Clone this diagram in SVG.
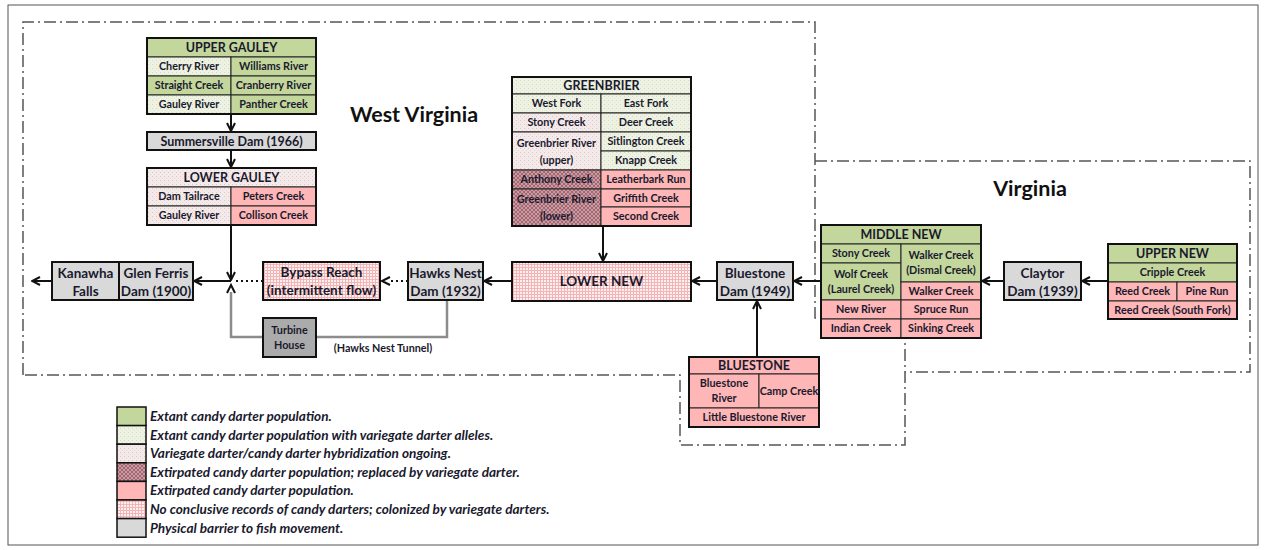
<svg xmlns="http://www.w3.org/2000/svg" width="1265" height="550" viewBox="0 0 1265 550">
<style>
text{font-family:Lato,"Liberation Sans",sans-serif;font-weight:bold;fill:#1a1a2e;text-anchor:middle}
.s{font-size:10.8px}
.m{font-size:12.5px}
.l{font-size:13.5px}
.st{font-size:21.5px;fill:#111}
.lg{font-size:13.6px;font-style:italic;text-anchor:start}
.cell{stroke:#222;stroke-width:1}
.box{fill:none;stroke:#111;stroke-width:2}
.gr{fill:#c3d69b}
.al{fill:url(#pAl)}
.hy{fill:url(#pHy)}
.re{fill:url(#pRe)}
.pk{fill:#ffb6b6}
.nc{fill:url(#pNc)}
.ba{fill:#d9d9d9}
.bd{fill:none;stroke:#555;stroke-width:1.5;stroke-dasharray:12 4 2 4}
.ar{fill:none;stroke:#111;stroke-width:2;marker-end:url(#arr)}
.dt{fill:none;stroke:#111;stroke-width:2;stroke-dasharray:2 3}
.tn{fill:none;stroke:#8c8c8c;stroke-width:2.5}
</style>
<defs>
<marker id="arr" viewBox="0 0 10 10" refX="9" refY="5" markerWidth="10" markerHeight="10" orient="auto" markerUnits="userSpaceOnUse">
<path d="M1,1 L9,5 L1,9" fill="none" stroke="#111" stroke-width="2"/>
</marker>
<pattern id="pAl" width="4" height="4" patternUnits="userSpaceOnUse">
<rect width="4" height="4" fill="#eef2e2"/><rect x="0" y="0" width="1" height="1" fill="#d3dac0"/><rect x="2" y="2" width="1" height="1" fill="#dfe5d0"/>
</pattern>
<pattern id="pHy" width="4" height="4" patternUnits="userSpaceOnUse">
<rect width="4" height="4" fill="#f5eaea"/><rect x="0" y="0" width="1" height="1" fill="#dcc6c8"/><rect x="2" y="2" width="1" height="1" fill="#e6d6d7"/>
</pattern>
<pattern id="pRe" width="4" height="4" patternUnits="userSpaceOnUse">
<rect width="4" height="4" fill="#cc9aa1"/><path d="M0,4 L4,0 M0,0 L4,4" stroke="#935c66" stroke-width="0.8"/>
</pattern>
<pattern id="pNc" width="3" height="3" patternUnits="userSpaceOnUse">
<rect width="3" height="3" fill="#fdf0f0"/><path d="M0,0.5 H3 M0.5,0 V3" stroke="#f2b4b4" stroke-width="1"/>
</pattern>
</defs>
<rect x="8" y="5" width="1250" height="540" fill="#fff" stroke="#555" stroke-width="1"/>

<g id="boundaries">
<polyline class="bd" points="23,375 23,22 815,22 815,318 905,318 905,445 680,445 680,375 23,375"/>
<polyline class="bd" points="815,161 1250,161 1250,372 905,372"/>
<text class="st" x="414" y="122">West Virginia</text>
<text class="st" x="1030" y="196">Virginia</text>
</g>

<g id="connectors">
<line class="ar" x1="231" y1="114" x2="231" y2="131"/>
<line class="ar" x1="231" y1="150" x2="231" y2="167"/>
<line class="ar" x1="231" y1="225" x2="231" y2="280"/>
<line class="ar" x1="231" y1="281" x2="194" y2="281"/>
<line class="ar" x1="52" y1="281" x2="32" y2="281"/>
<line class="dt" x1="263" y1="281" x2="235" y2="281"/>
<line class="dt" x1="408" y1="281" x2="390" y2="281"/>
<path d="M390,277 L382,281 L390,285" fill="none" stroke="#111" stroke-width="2"/>
<line class="ar" x1="512" y1="281" x2="484" y2="281"/>
<line class="ar" x1="603" y1="226" x2="603" y2="261"/>
<line class="ar" x1="717" y1="281" x2="692" y2="281"/>
<line class="ar" x1="821" y1="281" x2="794" y2="281"/>
<line class="ar" x1="757" y1="357" x2="757" y2="301"/>
<line class="ar" x1="1004" y1="281" x2="982" y2="281"/>
<line class="ar" x1="1108" y1="281" x2="1082" y2="281"/>
<polyline class="tn" points="447,300 447,337 316,337"/>
<polyline class="tn" points="263,337 231,337 231,292"/>
<path d="M227,293 L231,285 L235,293" fill="none" stroke="#111" stroke-width="2"/>
<text class="s" x="383" y="352">(Hawks Nest Tunnel)</text>
</g>

<g id="upper-gauley">
<rect class="cell gr" x="147" y="38" width="169" height="19"/>
<rect class="cell al" x="147" y="57" width="84" height="19"/>
<rect class="cell gr" x="231" y="57" width="85" height="19"/>
<rect class="cell gr" x="147" y="76" width="84" height="19"/>
<rect class="cell gr" x="231" y="76" width="85" height="19"/>
<rect class="cell al" x="147" y="95" width="84" height="19"/>
<rect class="cell gr" x="231" y="95" width="85" height="19"/>
<rect class="box" x="147" y="38" width="169" height="76"/>
<text class="m" x="231.5" y="52">UPPER GAULEY</text>
<text class="s" x="189" y="70">Cherry River</text>
<text class="s" x="273.5" y="70">Williams River</text>
<text class="s" x="189" y="89">Straight Creek</text>
<text class="s" x="273.5" y="89">Cranberry River</text>
<text class="s" x="189" y="108">Gauley River</text>
<text class="s" x="273.5" y="108">Panther Creek</text>
</g>

<g id="summersville">
<rect class="ba" x="147" y="132" width="169" height="18" stroke="#111" stroke-width="2"/>
<text class="m" x="231.5" y="145.5">Summersville Dam (1966)</text>
</g>

<g id="lower-gauley">
<rect class="cell hy" x="147" y="168" width="169" height="19"/>
<rect class="cell hy" x="147" y="187" width="84" height="19"/>
<rect class="cell pk" x="231" y="187" width="85" height="19"/>
<rect class="cell hy" x="147" y="206" width="84" height="19"/>
<rect class="cell pk" x="231" y="206" width="85" height="19"/>
<rect class="box" x="147" y="168" width="169" height="57"/>
<text class="m" x="231.5" y="182">LOWER GAULEY</text>
<text class="s" x="189" y="200">Dam Tailrace</text>
<text class="s" x="273.5" y="200">Peters Creek</text>
<text class="s" x="189" y="219">Gauley River</text>
<text class="s" x="273.5" y="219">Collison Creek</text>
</g>

<g id="kanawha-glen-ferris">
<rect class="ba" x="52" y="262" width="141" height="38" stroke="#111" stroke-width="2"/>
<line x1="119" y1="262" x2="119" y2="300" stroke="#111" stroke-width="2"/>
<text class="l" x="85.5" y="278">Kanawha</text>
<text class="l" x="85.5" y="296">Falls</text>
<text class="l" x="156" y="278">Glen Ferris</text>
<text class="l" x="156" y="296">Dam (1900)</text>
</g>

<g id="bypass-reach">
<rect class="nc" x="263" y="262" width="117" height="38" stroke="#111" stroke-width="2"/>
<text class="l" x="321.5" y="277">Bypass Reach</text>
<text class="l" x="321.5" y="295">(intermittent flow)</text>
</g>

<g id="hawks-nest">
<rect class="ba" x="408" y="262" width="75" height="38" stroke="#111" stroke-width="2"/>
<text class="l" x="445.5" y="278">Hawks Nest</text>
<text class="l" x="445.5" y="296">Dam (1932)</text>
</g>

<g id="turbine-house">
<rect x="263" y="318" width="53" height="39" fill="#ababab" stroke="#111" stroke-width="2"/>
<text class="s" x="289.5" y="334">Turbine</text>
<text class="s" x="289.5" y="349">House</text>
</g>

<g id="lower-new">
<rect class="nc" x="512" y="262" width="179" height="39" stroke="#111" stroke-width="2"/>
<text class="l" x="601.5" y="286">LOWER NEW</text>
</g>

<g id="greenbrier">
<rect class="cell al" x="512" y="77" width="179" height="17"/>
<rect class="cell al" x="512" y="94" width="89" height="19"/>
<rect class="cell al" x="601" y="94" width="90" height="19"/>
<rect class="cell hy" x="512" y="113" width="89" height="19"/>
<rect class="cell al" x="601" y="113" width="90" height="19"/>
<rect class="cell hy" x="512" y="132" width="89" height="38"/>
<rect class="cell al" x="601" y="132" width="90" height="19"/>
<rect class="cell al" x="601" y="151" width="90" height="19"/>
<rect class="cell re" x="512" y="170" width="89" height="19"/>
<rect class="cell pk" x="601" y="170" width="90" height="19"/>
<rect class="cell re" x="512" y="189" width="89" height="37"/>
<rect class="cell pk" x="601" y="189" width="90" height="18"/>
<rect class="cell pk" x="601" y="207" width="90" height="19"/>
<rect class="box" x="512" y="77" width="179" height="149"/>
<text class="m" x="601.5" y="90">GREENBRIER</text>
<text class="s" x="556.5" y="107">West Fork</text>
<text class="s" x="646" y="107">East Fork</text>
<text class="s" x="556.5" y="126">Stony Creek</text>
<text class="s" x="646" y="126">Deer Creek</text>
<text class="s" x="556.5" y="147">Greenbrier River</text>
<text class="s" x="556.5" y="164">(upper)</text>
<text class="s" x="646" y="145">Sitlington Creek</text>
<text class="s" x="646" y="164">Knapp Creek</text>
<text class="s" x="556.5" y="183">Anthony Creek</text>
<text class="s" x="646" y="183">Leatherbark Run</text>
<text class="s" x="556.5" y="203">Greenbrier River</text>
<text class="s" x="556.5" y="220">(lower)</text>
<text class="s" x="646" y="202">Griffith Creek</text>
<text class="s" x="646" y="220">Second Creek</text>
</g>

<g id="bluestone-dam">
<rect class="ba" x="717" y="262" width="76" height="38" stroke="#111" stroke-width="2"/>
<text class="l" x="755" y="278">Bluestone</text>
<text class="l" x="755" y="296">Dam (1949)</text>
</g>

<g id="bluestone">
<rect class="cell pk" x="689" y="357" width="130" height="17"/>
<rect class="cell pk" x="689" y="374" width="70" height="34"/>
<rect class="cell pk" x="759" y="374" width="60" height="34"/>
<rect class="cell pk" x="689" y="408" width="130" height="19"/>
<rect class="box" x="689" y="357" width="130" height="70"/>
<text class="m" x="754" y="370">BLUESTONE</text>
<text class="s" x="724" y="387">Bluestone</text>
<text class="s" x="724" y="402">River</text>
<text class="s" x="789" y="395">Camp Creek</text>
<text class="s" x="754" y="421">Little Bluestone River</text>
</g>

<g id="middle-new">
<rect class="cell gr" x="821" y="225" width="160" height="19"/>
<rect class="cell gr" x="821" y="244" width="80" height="19"/>
<rect class="cell gr" x="821" y="263" width="80" height="37"/>
<rect class="cell pk" x="821" y="300" width="80" height="19"/>
<rect class="cell pk" x="821" y="319" width="80" height="19"/>
<rect class="cell gr" x="901" y="244" width="80" height="38"/>
<rect class="cell pk" x="901" y="282" width="80" height="18"/>
<rect class="cell pk" x="901" y="300" width="80" height="19"/>
<rect class="cell pk" x="901" y="319" width="80" height="19"/>
<rect class="box" x="821" y="225" width="160" height="113"/>
<text class="m" x="901" y="239">MIDDLE NEW</text>
<text class="s" x="861" y="257">Stony Creek</text>
<text class="s" x="861" y="278">Wolf Creek</text>
<text class="s" x="861" y="293">(Laurel Creek)</text>
<text class="s" x="861" y="313">New River</text>
<text class="s" x="861" y="332">Indian Creek</text>
<text class="s" x="941" y="259">Walker Creek</text>
<text class="s" x="941" y="274">(Dismal Creek)</text>
<text class="s" x="941" y="295">Walker Creek</text>
<text class="s" x="941" y="313">Spruce Run</text>
<text class="s" x="941" y="332">Sinking Creek</text>
</g>

<g id="claytor-dam">
<rect class="ba" x="1004" y="262" width="77" height="38" stroke="#111" stroke-width="2"/>
<text class="l" x="1042.5" y="278">Claytor</text>
<text class="l" x="1042.5" y="296">Dam (1939)</text>
</g>

<g id="upper-new">
<rect class="cell gr" x="1108" y="244" width="129" height="19"/>
<rect class="cell gr" x="1108" y="263" width="129" height="19"/>
<rect class="cell pk" x="1108" y="282" width="69" height="19"/>
<rect class="cell pk" x="1177" y="282" width="60" height="19"/>
<rect class="cell pk" x="1108" y="301" width="129" height="18"/>
<rect class="box" x="1108" y="244" width="129" height="75"/>
<text class="m" x="1172.5" y="258">UPPER NEW</text>
<text class="s" x="1172.5" y="276">Cripple Creek</text>
<text class="s" x="1142.5" y="295">Reed Creek</text>
<text class="s" x="1207" y="295">Pine Run</text>
<text class="s" x="1172.5" y="314">Reed  Creek (South Fork)</text>
</g>

<g id="legend">
<rect class="gr" x="117" y="407" width="29" height="18.6" stroke="#111" stroke-width="1.5"/>
<rect class="al" x="117" y="425.6" width="29" height="18.6" stroke="#111" stroke-width="1.5"/>
<rect class="hy" x="117" y="444.2" width="29" height="18.6" stroke="#111" stroke-width="1.5"/>
<rect class="re" x="117" y="462.8" width="29" height="18.6" stroke="#111" stroke-width="1.5"/>
<rect class="pk" x="117" y="481.4" width="29" height="18.6" stroke="#111" stroke-width="1.5"/>
<rect class="nc" x="117" y="500" width="29" height="18.6" stroke="#111" stroke-width="1.5"/>
<rect class="ba" x="117" y="518.6" width="29" height="18.6" stroke="#111" stroke-width="1.5"/>
<text class="lg" x="150" y="421">Extant candy darter population.</text>
<text class="lg" x="150" y="440">Extant candy darter population with variegate darter alleles.</text>
<text class="lg" x="150" y="458">Variegate darter/candy darter hybridization ongoing.</text>
<text class="lg" x="150" y="477">Extirpated candy darter population; replaced by variegate darter.</text>
<text class="lg" x="150" y="495">Extirpated candy darter population.</text>
<text class="lg" x="150" y="514">No conclusive records of candy darters; colonized by variegate darters.</text>
<text class="lg" x="150" y="533">Physical barrier to fish movement.</text>
</g>
</svg>
